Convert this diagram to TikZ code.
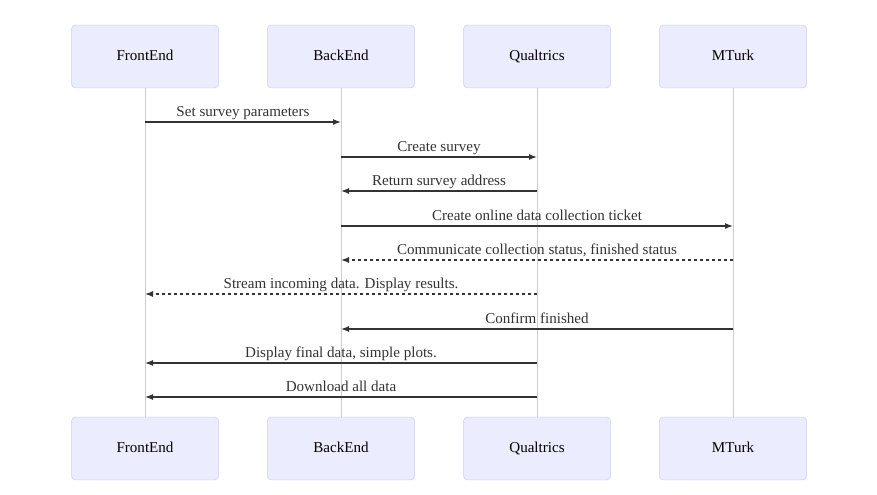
\documentclass[tikz,border=0pt]{standalone}
\usepackage{fontspec}
\setmainfont{Liberation Serif}
\usetikzlibrary{arrows.meta}
\definecolor{actfill}{HTML}{ECECFF}
\definecolor{actline}{HTML}{CCCCFF}
\definecolor{lifeline}{HTML}{CCCCCC}
\definecolor{msgline}{HTML}{333333}
\tikzset{
actor/.style={draw=actline,fill=actfill,rounded corners=2.5pt,minimum width=110pt,minimum height=47pt,text height=0.66em,text depth=0pt,font=\fontsize{11.3}{13}\selectfont},
life/.style={draw=lifeline,line width=0.75pt},
msg/.style={draw=msgline,line width=1pt,-{Latex[length=6pt,width=4.5pt]}},
reply/.style={msg,dash pattern=on 2.25pt off 2.25pt},
lbl/.style={pos=0.5,anchor=base,yshift=4pt,font=\fontsize{11.3}{13}\selectfont,text=msgline}
}
\begin{document}
\begin{tikzpicture}[x=0.75pt,y=-0.75pt]
\useasboundingbox (0,0) rectangle (877,495);
\pgfmathsetmacro{\ytop}{56.5}
\pgfmathsetmacro{\ybot}{448.5}
\node[actor](fe) at (145,\ytop){FrontEnd};
\node[actor](be) at (341,\ytop){BackEnd};
\node[actor](qu) at (537,\ytop){Qualtrics};
\node[actor](mt) at (733,\ytop){MTurk};
\node[actor](fe2) at (145,\ybot){FrontEnd};
\node[actor](be2) at (341,\ybot){BackEnd};
\node[actor](qu2) at (537,\ybot){Qualtrics};
\node[actor](mt2) at (733,\ybot){MTurk};
\draw[life](fe)--(fe2);
\draw[life](be)--(be2);
\draw[life](qu)--(qu2);
\draw[life](mt)--(mt2);
\draw[msg](fe |- 0,122)--(be |- 0,122)node[lbl]{Set survey parameters};
\draw[msg](be |- 0,157)--(qu |- 0,157)node[lbl]{Create survey};
\draw[msg](qu |- 0,191)--(be |- 0,191)node[lbl]{Return survey address};
\draw[msg](be |- 0,226)--(mt |- 0,226)node[lbl]{Create online data collection ticket};
\draw[reply](mt |- 0,260)--(be |- 0,260)node[lbl]{Communicate collection status, finished status};
\draw[reply](qu |- 0,294)--(fe |- 0,294)node[lbl]{Stream incoming data. Display results.};
\draw[msg](mt |- 0,329)--(be |- 0,329)node[lbl]{Confirm finished};
\draw[msg](qu |- 0,363)--(fe |- 0,363)node[lbl]{Display final data, simple plots.};
\draw[msg](qu |- 0,397)--(fe |- 0,397)node[lbl]{Download all data};
\end{tikzpicture}
\end{document}
